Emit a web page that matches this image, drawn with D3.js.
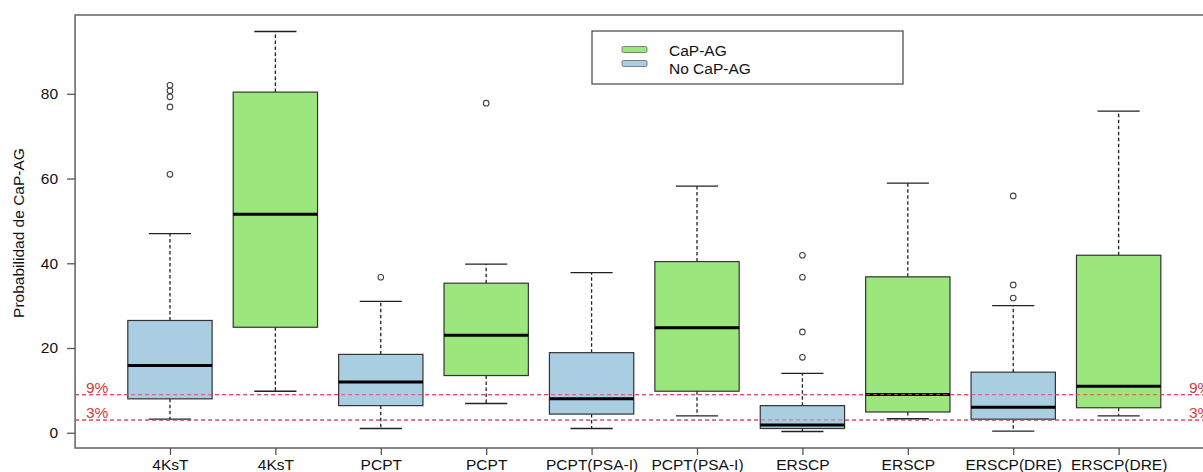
<!DOCTYPE html>
<html><head><meta charset="utf-8">
<script src="https://cdn.jsdelivr.net/npm/d3@7"></script>
<style>
html,body{margin:0;padding:0;background:#fff;}
svg{display:block;font-family:"Liberation Sans",Arial,sans-serif;}
</style></head>
<body>
<svg id="chart" width="1203" height="472"></svg>
<script>
const categories = ["4KsT","4KsT","PCPT","PCPT","PCPT(PSA-I)","PCPT(PSA-I)","ERSCP","ERSCP","ERSCP(DRE)","ERSCP(DRE)"];
const groups     = ["No CaP-AG","CaP-AG","No CaP-AG","CaP-AG","No CaP-AG","CaP-AG","No CaP-AG","CaP-AG","No CaP-AG","CaP-AG"];
const whiskerLow = [3.2, 9.8, 1.0, 6.9, 1.0, 4.0, 0.3, 3.3, 0.4, 4.0];
const q1         = [8.0, 24.9, 6.4, 13.5, 4.4, 9.8, 1.0, 4.9, 3.2, 5.9];
const medians    = [15.9, 51.6, 12.0, 23.0, 8.0, 24.8, 1.8, 9.0, 6.0, 11.0];
const q3         = [26.5, 80.4, 18.5, 35.3, 18.9, 40.4, 6.4, 36.8, 14.3, 41.9];
const whiskerHigh= [47.0, 94.7, 31.0, 39.8, 37.8, 58.2, 14.0, 58.9, 30.0, 75.9];
const outliers   = [[82, 80.7, 79.3, 76.9, 61], [], [36.7], [77.8], [], [], [41.9, 36.7, 23.8, 17.8], [], [55.9, 34.9, 31.8], []];
const yTicks     = [0, 20, 40, 60, 80];
const refLines   = [9, 3];
const refLabels  = ["9%", "3%"];
const legendItems= ["CaP-AG", "No CaP-AG"];

const colors = {"CaP-AG": "#9be77d", "No CaP-AG": "#a9cde1"};
const svg = d3.select("#chart");
const FONT = "15.5px";

const x = d3.scaleLinear().domain([0.1, 10.9]).range([75.1, 1213.5]);
const y = d3.scaleLinear().domain([-3.6, 98.6]).range([448, 15]);
const bw = x(1.4) - x(1);   // half box width
const cw = bw / 2;          // half cap width

// reference lines
const refG = svg.append("g");
refLines.forEach((v, i) => {
  refG.append("line").attr("x1", x(0.1)).attr("x2", 1203)
    .attr("y1", y(v)).attr("y2", y(v))
    .attr("stroke", "#d9506a").attr("stroke-width", 1.2).attr("stroke-dasharray", "4,3");
  refG.append("text").attr("x", 86).attr("y", y(v) - 2).text(refLabels[i])
    .attr("fill", "#d23c3c").attr("font-size", FONT);
  refG.append("text").attr("x", 1189).attr("y", y(v) - 2).text(refLabels[i])
    .attr("fill", "#d23c3c").attr("font-size", FONT);
});

// boxes
categories.forEach((c, i) => {
  const p = i + 1, cx = x(p);
  const g = svg.append("g");
  // whiskers
  g.append("line").attr("x1", cx).attr("x2", cx).attr("y1", y(q3[i])).attr("y2", y(whiskerHigh[i]))
    .attr("stroke", "#222").attr("stroke-width", 1.3).attr("stroke-dasharray", "3.5,2.5");
  g.append("line").attr("x1", cx).attr("x2", cx).attr("y1", y(q1[i])).attr("y2", y(whiskerLow[i]))
    .attr("stroke", "#222").attr("stroke-width", 1.3).attr("stroke-dasharray", "3.5,2.5");
  [whiskerHigh[i], whiskerLow[i]].forEach(v => {
    g.append("line").attr("x1", cx - cw).attr("x2", cx + cw).attr("y1", y(v)).attr("y2", y(v))
      .attr("stroke", "#222").attr("stroke-width", 1.3);
  });
  // box
  g.append("rect").attr("x", cx - bw).attr("width", 2 * bw)
    .attr("y", y(q3[i])).attr("height", y(q1[i]) - y(q3[i]))
    .attr("fill", colors[groups[i]]).attr("stroke", "#333").attr("stroke-width", 1.2);
  g.append("line").attr("x1", cx - bw).attr("x2", cx + bw).attr("y1", y(medians[i])).attr("y2", y(medians[i]))
    .attr("stroke", "#000").attr("stroke-width", 3);
  // outliers
  g.selectAll("circle").data(outliers[i]).enter().append("circle")
    .attr("cx", cx).attr("cy", d => y(d)).attr("r", 2.8)
    .attr("fill", "none").attr("stroke", "#444").attr("stroke-width", 1.1);
});

// redraw ref lines on top faintly (they pass over boxes in reference)
refLines.forEach(v => {
  svg.append("line").attr("x1", x(0.1)).attr("x2", 1203)
    .attr("y1", y(v)).attr("y2", y(v))
    .attr("stroke", "#d9506a").attr("stroke-width", 1.1).attr("stroke-dasharray", "4,3").attr("opacity", 0.8);
});

// frame
svg.append("rect").attr("x", x(0.1)).attr("y", y(98.6)).attr("width", x(10.9) - x(0.1)).attr("height", y(-3.6) - y(98.6))
  .attr("fill", "none").attr("stroke", "#6a6a6a").attr("stroke-width", 1.6);

// y axis
const yAxis = d3.axisLeft(y).tickValues(yTicks).tickSize(8).tickPadding(9).tickFormat(d3.format("d"));
const yg = svg.append("g").attr("transform", `translate(${x(0.1)},0)`).call(yAxis);
yg.select(".domain").remove();
yg.selectAll("line").attr("stroke", "#555").attr("stroke-width", 1.3);
yg.selectAll("text").attr("font-size", FONT).attr("fill", "#111").attr("font-family", "Liberation Sans, Arial, sans-serif");

// x axis
const xAxis = d3.axisBottom(x).tickValues(d3.range(1, 11)).tickSize(7).tickPadding(4).tickFormat(d => categories[d - 1]);
const xg = svg.append("g").attr("transform", `translate(0,${y(-3.6)})`).call(xAxis);
xg.select(".domain").remove();
xg.selectAll("line").attr("stroke", "#555").attr("stroke-width", 1.3);
xg.selectAll("text").attr("font-size", FONT).attr("fill", "#111").attr("font-family", "Liberation Sans, Arial, sans-serif");

// y title
svg.append("text").attr("transform", "translate(24,233) rotate(-90)")
  .attr("text-anchor", "middle").attr("font-size", FONT).attr("fill", "#111")
  .text("Probabilidad de CaP-AG");

// legend
const lg = svg.append("g");
lg.append("rect").attr("x", 592).attr("y", 31).attr("width", 311).attr("height", 53)
  .attr("fill", "#fff").attr("stroke", "#444").attr("stroke-width", 1.2);
legendItems.forEach((k, i) => {
  lg.append("rect").attr("x", 622).attr("y", 46.5 + i * 14).attr("width", 25).attr("height", 6).attr("rx", 1.5)
    .attr("fill", colors[k]).attr("stroke", "#666").attr("stroke-width", 0.8);
  lg.append("text").attr("x", 669).attr("y", 55.5 + i * 18.5).attr("font-size", FONT).attr("fill", "#111").text(k);
});
</script>
</body></html>
